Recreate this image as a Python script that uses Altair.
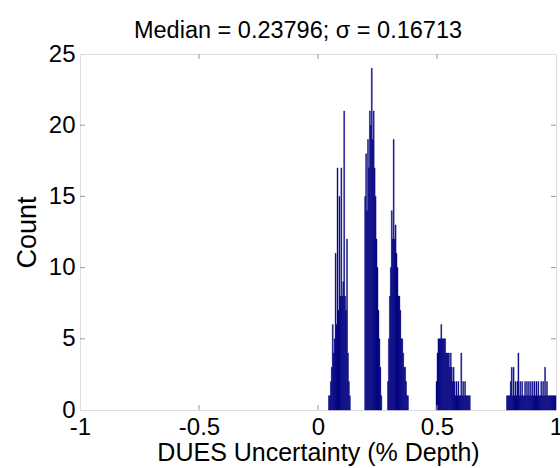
import altair as alt
import pandas as pd

# ---- data (histogram counts, narrow bins) ----
BIN_WIDTH = 0.004
cluster_starts = [0.044, 0.196, 0.292, 0.496, 0.792]
counts_c1 = [1, 1, 2, 3, 6, 4, 5, 11, 6, 17, 7, 15, 8, 17, 8, 9, 21, 8, 7, 12, 4, 2, 1]
counts_c2 = [15, 18, 14, 19, 17, 21, 20, 24, 19, 21, 17, 15, 12, 10, 7, 5, 3, 1]
counts_c3 = [2, 5, 8, 10, 14, 12, 19, 12, 13, 11, 10, 8, 8, 7, 5, 5, 4, 3, 3, 2, 1, 1]
counts_c4 = [2, 4, 5, 5, 5, 6, 5, 5, 5, 5, 4, 4, 4, 4, 3, 4, 3, 2, 3, 2, 1, 2, 1, 2,
             1, 1, 4, 1, 2, 1, 2, 1, 1, 1, 1, 1]
counts_c5 = [1, 1, 1, 1, 2, 3, 1, 3, 1, 2, 1, 2, 4, 1, 2, 1, 2, 1, 1, 2, 1, 2, 1, 2,
             1, 2, 1, 2, 1, 2, 1, 2, 1, 2, 1, 1, 2, 1, 2, 1, 3, 1, 2, 1, 1, 1, 1, 1,
             1, 1, 1, 1]
cluster_counts = [counts_c1, counts_c2, counts_c3, counts_c4, counts_c5]

x_ticks = [-1, -0.5, 0, 0.5, 1]
y_ticks = [0, 5, 10, 15, 20, 25]

title_text = "Median = 0.23796; \u03c3 = 0.16713"
x_title = "DUES Uncertainty (% Depth)"
y_title = "Count"

rows = []
for start, counts in zip(cluster_starts, cluster_counts):
    for i, c in enumerate(counts):
        x0 = start + i * BIN_WIDTH
        rows.append({"x0": x0, "x1": x0 + BIN_WIDTH, "count": c})
df = pd.DataFrame(rows)

W, H = 476, 356
FONT = "Liberation Sans"
BAR = "#000080"
FRAME = "#9a9a9a"

xscale = alt.Scale(domain=[-1, 1], nice=False, zero=False)
yscale = alt.Scale(domain=[0, 25], nice=False)

bars = alt.Chart(df).mark_bar(color=BAR, stroke=BAR, strokeWidth=0.4).encode(
    x=alt.X("x0:Q", scale=xscale,
            axis=alt.Axis(values=x_ticks, title=x_title, grid=False, domain=False,
                          tickSize=0, labelPadding=5, labelFontSize=24,
                          labelFont=FONT, labelColor="#000", titleFont=FONT,
                          titleFontSize=25, titleFontWeight="normal",
                          titleColor="#000", titlePadding=1,
                          labelExpr="'' + datum.value", labelFlush=False)),
    x2="x1:Q",
    y=alt.Y("count:Q", scale=yscale,
            axis=alt.Axis(values=y_ticks, title=y_title, grid=False, domain=False,
                          tickSize=0, labelPadding=5, labelFontSize=24,
                          labelFont=FONT, labelColor="#000", titleFont=FONT,
                          titleFontSize=27, titleFontWeight="normal",
                          titleColor="#000", titlePadding=7)),
    y2=alt.datum(0),
)

xt = pd.DataFrame({"t": x_ticks[1:-1]})
yt = pd.DataFrame({"t": y_ticks[1:-1]})

bx = alt.Chart(xt).mark_rule(color=FRAME, strokeWidth=1).encode(
    x=alt.X("t:Q", scale=xscale), y=alt.value(H), y2=alt.value(H - 5))
tx = alt.Chart(xt).mark_rule(color=FRAME, strokeWidth=1).encode(
    x=alt.X("t:Q", scale=xscale), y=alt.value(0), y2=alt.value(5))
ly = alt.Chart(yt).mark_rule(color=FRAME, strokeWidth=1).encode(
    y=alt.Y("t:Q", scale=yscale), x=alt.value(0), x2=alt.value(5))
ry = alt.Chart(yt).mark_rule(color=FRAME, strokeWidth=1).encode(
    y=alt.Y("t:Q", scale=yscale), x=alt.value(W - 5), x2=alt.value(W))

chart = alt.layer(bars, bx, tx, ly, ry).properties(
    width=W, height=H,
    title=alt.TitleParams(title_text, font=FONT, fontSize=23.5, fontWeight="normal",
                          color="#000", anchor="middle", offset=0, dx=-20),
    autosize=alt.AutoSizeParams(type="none"),
    padding={"left": 80, "top": 54, "right": 4, "bottom": 58},
).configure_view(stroke=FRAME, strokeWidth=1).configure(background="white")

chart.save("out.html", embed_options={"renderer": "svg", "actions": False})
